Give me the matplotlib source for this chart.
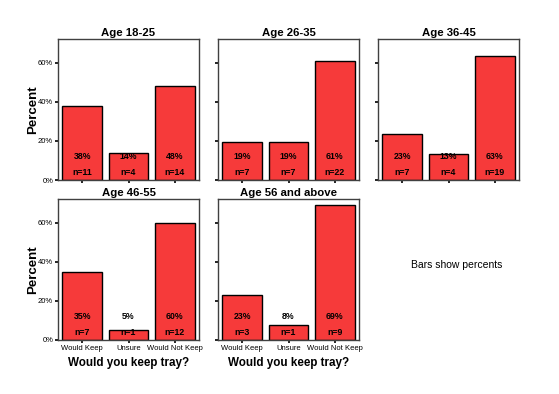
import matplotlib.pyplot as plt
import numpy as np

plt.rcParams['font.family'] = ['Liberation Sans', 'DejaVu Sans']

# survey data: would respondents keep the tray, by age group
groups = ['Age 18-25', 'Age 26-35', 'Age 36-45', 'Age 46-55', 'Age 56 and above']
answers = ['Would Keep', 'Unsure', 'Would Not Keep']
counts_18_25 = [11, 4, 14]
counts_26_35 = [7, 7, 22]
counts_36_45 = [7, 4, 19]
counts_46_55 = [7, 1, 12]
counts_56_up = [3, 1, 9]
all_counts = [counts_18_25, counts_26_35, counts_36_45, counts_46_55, counts_56_up]

W, H = 559, 394
fig = plt.figure(figsize=(W / 100, H / 100), dpi=100)

# panel boxes in pixels: left, top
lefts = [58, 218, 378, 58, 218]
tops = [39, 39, 39, 199, 199]
pw, ph = 141, 141

bar_color = '#f63a3a'
frame = '#404040'
x = np.arange(len(answers))

for i, (name, counts) in enumerate(zip(groups, all_counts)):
    l, t = lefts[i], tops[i]
    ax = fig.add_axes([l / W, 1 - (t + ph) / H, pw / W, ph / H])
    counts = np.array(counts)
    pct = counts / counts.sum() * 100
    ax.bar(x, pct, width=0.86, color=bar_color, edgecolor='black', linewidth=1)
    for xi, p, n in zip(x, pct, counts):
        ax.text(xi, 11.8, f'{p:.0f}%', ha='center', va='center', fontsize=6.3,
                fontweight='bold')
        ax.text(xi, 3.6, f'n={n}', ha='center', va='center', fontsize=6.3,
                fontweight='bold')
    ax.set_xlim(-0.52, 2.52)
    ax.set_ylim(0, 72.3)
    ax.set_yticks([0, 20, 40, 60])
    ax.set_xticks(x)
    ax.tick_params(direction='out', length=2.5, width=1.2, color='black',
                   labelsize=5.5, pad=1)
    for s in ax.spines.values():
        s.set_color(frame)
        s.set_linewidth(1)
    ax.set_title(name, fontsize=8.2, fontweight='bold', pad=2)
    if l == 58:
        ax.set_yticklabels(['0%', '20%', '40%', '60%'])
        ax.set_ylabel('Percent', fontsize=9.5, fontweight='bold')
        ax.yaxis.set_label_coords(-0.135, 0.5)
    else:
        ax.set_yticklabels([])
    if t == 199:
        ax.set_xticklabels(answers)
        ax.set_xlabel('Would you keep tray?', fontsize=8.4, fontweight='bold',
                      labelpad=4)
    else:
        ax.set_xticklabels([])

fig.text(457 / W, 1 - 265 / H, 'Bars show percents', ha='center', va='center',
         fontsize=7.5)

fig.savefig('out.png', dpi=100)
